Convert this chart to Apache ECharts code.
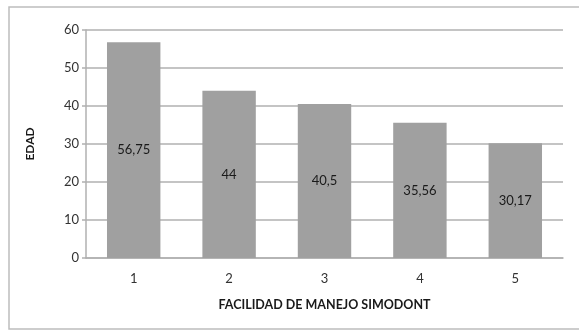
<!DOCTYPE html>
<html>
<head>
<meta charset="utf-8">
<script src="https://cdn.jsdelivr.net/npm/echarts@6/dist/echarts.min.js"></script>
<style>
  html, body { margin: 0; padding: 0; background: #fff; }
  #chart { width: 579px; height: 331px; }
</style>
</head>
<body>
<div id="chart"></div>
<script>
// Mean age by ease-of-use rating of the Simodont simulator
const categories = ['1', '2', '3', '4', '5'];
const ages = [56.75, 44, 40.5, 35.56, 30.17];
const yTicks = [0, 10, 20, 30, 40, 50, 60];

const chart = echarts.init(document.getElementById('chart'));
const font = 'Lato, "Open Sans", sans-serif';

chart.setOption({
  animation: false,
  backgroundColor: '#fff',
  graphic: [{
    type: 'rect',
    shape: { x: 9, y: 7, width: 580, height: 322 },
    style: { fill: 'none', stroke: '#bdbdbd', lineWidth: 1.5 },
    silent: true
  }],
  grid: { left: 86, right: 16, top: 30, bottom: 73 },
  xAxis: {
    type: 'category',
    data: categories,
    name: 'FACILIDAD DE MANEJO SIMODONT',
    nameLocation: 'middle',
    nameGap: 40,
    nameTextStyle: { fontFamily: font, fontSize: 12.5, fontWeight: 'bold', color: '#1a1a1a' },
    axisLine: { lineStyle: { color: '#b0b0b0', width: 1.5 } },
    axisTick: { show: false },
    axisLabel: { fontFamily: font, fontSize: 13, color: '#333', margin: 14 }
  },
  yAxis: {
    type: 'value',
    min: yTicks[0],
    max: yTicks[yTicks.length - 1],
    interval: yTicks[1] - yTicks[0],
    name: 'EDAD',
    nameLocation: 'middle',
    nameGap: 50,
    nameTextStyle: { fontFamily: font, fontSize: 12, fontWeight: 'bold', color: '#1a1a1a' },
    axisLine: { show: true, lineStyle: { color: '#b0b0b0', width: 1.5 } },
    axisTick: { show: true, length: 4, lineStyle: { color: '#b0b0b0', width: 1.5 } },
    axisLabel: { fontFamily: font, fontSize: 13, color: '#333', margin: 7 },
    splitLine: { lineStyle: { color: '#b0b0b0', width: 1.5 } }
  },
  series: [{
    type: 'bar',
    data: ages,
    barWidth: '56%',
    itemStyle: { color: '#a0a0a0' },
    label: {
      show: true,
      position: 'inside',
      fontFamily: font,
      fontSize: 13,
      color: '#1a1a1a',
      formatter: p => String(p.value).replace('.', ',')
    }
  }]
});
</script>
</body>
</html>
